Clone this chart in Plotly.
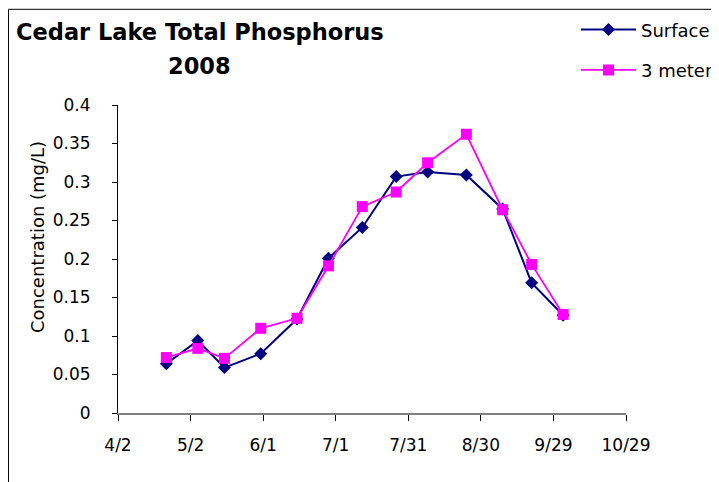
import plotly.graph_objects as go

# sampling dates, 2008
dates = ['2008-04-22', '2008-05-05', '2008-05-16', '2008-05-31', '2008-06-15',
         '2008-06-28', '2008-07-12', '2008-07-26', '2008-08-08', '2008-08-24',
         '2008-09-08', '2008-09-20', '2008-10-03']

surface = [0.064, 0.094, 0.059, 0.077, 0.122, 0.201, 0.241,
           0.307, 0.313, 0.309, 0.265, 0.169, 0.127]
three_m = [0.072, 0.084, 0.071, 0.110, 0.123, 0.191, 0.268,
           0.287, 0.325, 0.362, 0.264, 0.193, 0.128]

x_ticks = ['2008-04-02', '2008-05-02', '2008-06-01', '2008-07-01',
           '2008-07-31', '2008-08-30', '2008-09-29', '2008-10-29']
x_labels = ['4/2', '5/2', '6/1', '7/1', '7/31', '8/30', '9/29', '10/29']
y_ticks = [0, 0.05, 0.1, 0.15, 0.2, 0.25, 0.3, 0.35, 0.4]
y_labels = ['0', '0.05', '0.1', '0.15', '0.2', '0.25', '0.3', '0.35', '0.4']

FONT = 'DejaVu Sans'

fig = go.Figure()
fig.add_trace(go.Scatter(
    x=dates, y=surface, name='Surface', mode='lines+markers', legendgroup='a',
    line=dict(color='#000080', width=2),
    marker=dict(symbol='diamond', size=10, color='#000080')))
fig.add_trace(go.Scatter(
    x=dates, y=three_m, name='3 meters', mode='lines+markers', legendgroup='b',
    line=dict(color='#FF00FF', width=1.8),
    marker=dict(symbol='square', size=11, color='#FF00FF')))

# page body has an 8px margin, so the figure is 8px smaller and shifted
fig.update_layout(
    width=711, height=474,
    margin=dict(l=110, r=93, t=97, b=69, autoexpand=False),
    paper_bgcolor='white', plot_bgcolor='white',
    font=dict(family=FONT, size=17, color='black'),
    showlegend=True,
    legend=dict(x=0.9016, y=1.304, xanchor='left', yanchor='top',
                font=dict(size=18), tracegroupgap=14, itemwidth=55,
                bgcolor='rgba(0,0,0,0)'),
    xaxis=dict(type='date', range=['2008-04-02', '2008-10-29'],
               tickvals=x_ticks, ticktext=x_labels,
               showgrid=False, zeroline=False,
               showline=True, linecolor='#808080', linewidth=2,
               ticks='outside', ticklen=6, tickcolor='black', tickwidth=1,
               ticklabelstandoff=10),
    yaxis=dict(range=[0, 0.4], tickvals=y_ticks, ticktext=y_labels,
               showgrid=False, zeroline=False,
               showline=True, linecolor='black', linewidth=1,
               ticks='outside', ticklen=5, tickcolor='black',
               ticklabelstandoff=18),
    shapes=[dict(type='rect', xref='paper', yref='paper',
                 x0=-0.2156, x1=1.5, y0=-0.5, y1=1.3107,
                 line=dict(color='black', width=1))],
    annotations=[
        dict(text='<b>Cedar Lake Total Phosphorus</b>', xref='paper', yref='paper',
             x=0.1614, y=1.238, xanchor='center', yanchor='middle',
             showarrow=False, font=dict(size=22.5)),
        dict(text='<b>2008</b>', xref='paper', yref='paper',
             x=0.1614, y=1.127, xanchor='center', yanchor='middle',
             showarrow=False, font=dict(size=22.5)),
        dict(text='Concentration (mg/L)', xref='paper', yref='paper',
             x=-0.1594, y=0.5714, xanchor='center', yanchor='middle',
             textangle=-90, showarrow=False, font=dict(size=18)),
    ],
)

fig.write_html('out.html')
